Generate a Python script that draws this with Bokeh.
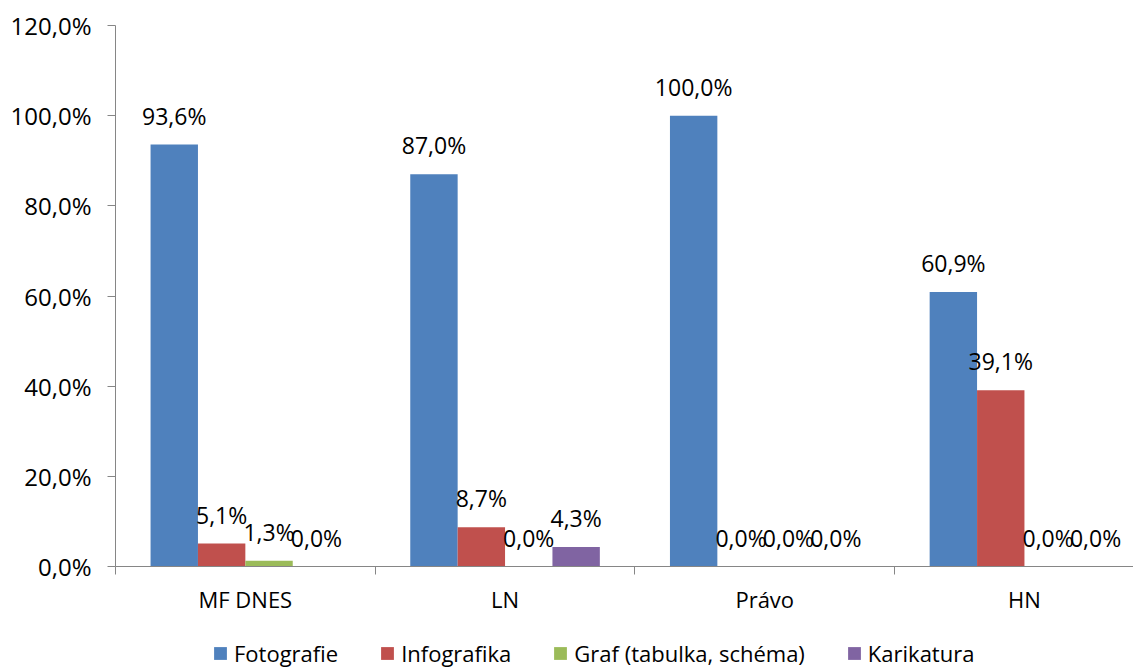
from bokeh.plotting import figure
from bokeh.layouts import column
from bokeh.models import ColumnDataSource, FixedTicker, CustomJSTickFormatter, Range1d, Legend, LegendItem
from bokeh.transform import dodge
from bokeh.core.properties import value
from bokeh.embed import file_html
from bokeh.resources import INLINE

# ---- data ----
categories = ["MF DNES", "LN", "Právo", "HN"]
series_names = ["Fotografie", "Infografika", "Graf (tabulka, schéma)", "Karikatura"]
fotografie = [93.6, 87.0, 100.0, 60.9]
infografika = [5.1, 8.7, 0.0, 39.1]
graf = [1.3, 0.0, 0.0, 0.0]
karikatura = [0.0, 4.3, 0.0, 0.0]
series_values = [fotografie, infografika, graf, karikatura]
colors = ["#4F81BD", "#C0504D", "#9BBB59", "#8064A2"]
y_ticks = [0, 20, 40, 60, 80, 100, 120]
y_tick_labels = ["0,0%", "20,0%", "40,0%", "60,0%", "80,0%", "100,0%", "120,0%"]

FONT = "Open Sans"
TXT = "#000000"
AXC = "#868686"

centers = [i + 0.5 for i in range(len(categories))]
boundaries = [float(i) for i in range(len(categories) + 1)]

data = {"xc": centers}
for name, vals in zip(series_names, series_values):
    data[name] = vals
    data[name + "_lbl"] = [("%.1f" % v).replace(".", ",") + "%" for v in vals]
source = ColumnDataSource(data)

p = figure(width=1133, height=630, output_backend="svg", toolbar_location=None,
           x_range=Range1d(0, 1018 / 259.7), y_range=Range1d(0, 120),
           min_border_left=115, min_border_right=0, min_border_top=25, min_border_bottom=64)
p.outline_line_color = None
p.xgrid.visible = False
p.ygrid.visible = False

group = 0.73
bw = group / len(series_names)
offsets = [-group / 2 + bw * (k + 0.5) for k in range(len(series_names))]

for name, col, off in zip(series_names, colors, offsets):
    p.vbar(x=dodge("xc", off, range=p.x_range), top=name, width=bw, bottom=0,
           source=source, fill_color=col, line_color=None)
    p.text(x=dodge("xc", off, range=p.x_range), y=name, text=name + "_lbl", source=source,
           text_align="center", text_baseline="alphabetic", y_offset=-29,
           text_font=value(FONT), text_font_size="23px", text_color=TXT)

# y axis
p.yaxis.ticker = FixedTicker(ticks=y_ticks)
p.yaxis.formatter = CustomJSTickFormatter(args=dict(yt=y_ticks, ylabels=y_tick_labels),
    code="const i = yt.indexOf(tick); return i >= 0 ? ylabels[i] : '';")
p.yaxis.axis_line_color = AXC
p.yaxis.major_tick_line_color = AXC
p.yaxis.major_tick_out = 8
p.yaxis.major_tick_in = 0
p.yaxis.minor_tick_line_color = None
p.yaxis.major_label_standoff = 16
p.yaxis.major_label_text_font = FONT
p.yaxis.major_label_text_font_size = "24px"
p.yaxis.major_label_text_color = TXT

# x axis
p.xaxis.ticker = FixedTicker(ticks=centers, minor_ticks=boundaries)
p.xaxis.formatter = CustomJSTickFormatter(args=dict(cats=categories),
    code="return cats[Math.floor(tick)] || '';")
p.xaxis.axis_line_color = AXC
p.xaxis.major_tick_line_color = None
p.xaxis.major_tick_out = 0
p.xaxis.major_tick_in = 0
p.xaxis.minor_tick_line_color = AXC
p.xaxis.minor_tick_out = 8
p.xaxis.minor_tick_in = 0
p.xaxis.major_label_standoff = 9
p.xaxis.major_label_text_font = FONT
p.xaxis.major_label_text_font_size = "22px"
p.xaxis.major_label_text_color = TXT

# legend strip below the chart (zero-height proxy bars carry the legend swatches)
pl = figure(width=1133, height=38, output_backend="svg", toolbar_location=None,
            x_axis_type=None, y_axis_type=None, x_range=Range1d(0, 1), y_range=Range1d(0, 1),
            min_border_left=0, min_border_right=0, min_border_top=0, min_border_bottom=0)
pl.outline_line_color = None
pl.xgrid.visible = False
pl.ygrid.visible = False
items = []
for name, col in zip(series_names, colors):
    r = pl.vbar(x=[0.5], top=[0], bottom=[0], width=0.01, fill_color=col, line_color=None)
    items.append(LegendItem(label=name, renderers=[r]))
lg = Legend(items=items, orientation="horizontal", location=(97, 0),
            glyph_width=16, glyph_height=16, label_standoff=6, spacing=41,
            padding=0, margin=0, border_line_alpha=0, background_fill_alpha=0,
            label_text_font=FONT, label_text_font_size="22px", label_text_color=TXT)
pl.add_layout(lg, "center")

open("out.html", "w").write(file_html(column(p, pl), INLINE))
